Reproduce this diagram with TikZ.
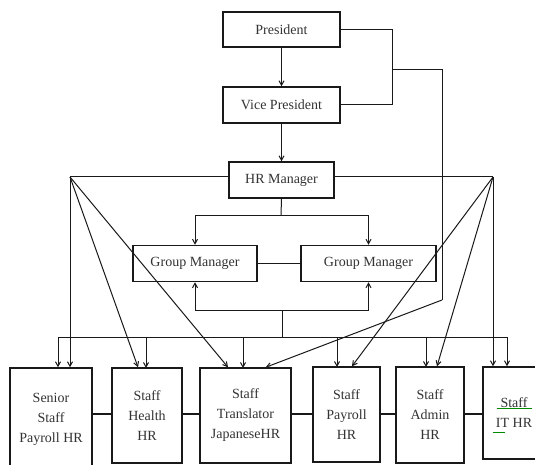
\documentclass[tikz,border=0pt]{standalone}
\usepackage{fontspec}
\setmainfont{Liberation Serif}
\usetikzlibrary{arrows.meta}
\begin{document}
\begin{tikzpicture}[x=1pt,y=-1pt,
  box/.style={draw=black!90,line width=1.5pt,fill=white,inner sep=0pt,align=center,
    font=\fontsize{14}{20}\selectfont,text=black!80},
  conn/.style={draw=black!90,line width=1pt},
  arr/.style={conn,-{Straight Barb[length=4.5pt,width=5pt]}},
  link/.style={draw=black!90,line width=1.8pt}]
\clip (0,0) rectangle (535,465);
\useasboundingbox (0,0) rectangle (535,465);
% boxes
\node[box,minimum width=117pt,minimum height=35pt] (pres) at (281.5,29.5) {President};
\node[box,minimum width=117pt,minimum height=36pt] (vp) at (281.5,105) {Vice President};
\node[box,minimum width=105pt,minimum height=36pt] (hr) at (281.5,180) {HR Manager};
\node[box,minimum width=124pt,minimum height=36pt] (gma) at (195,263.5) {Group Manager};
\node[box,minimum width=135pt,minimum height=36pt] (gmb) at (368.5,263.5) {Group Manager};
\node[box,minimum width=82pt,minimum height=102pt] (sen) at (51,419) {Senior\\Staff\\Payroll HR};
\node[box,minimum width=70pt,minimum height=95pt] (hea) at (147,415.5) {Staff\\Health\\HR};
\node[box,minimum width=91pt,minimum height=95pt] (tra) at (245.5,415.5) {Staff\\Translator\\JapaneseHR};
\node[box,minimum width=67pt,minimum height=95pt] (pay) at (346.5,414.5) {Staff\\Payroll\\HR};
\node[box,minimum width=68pt,minimum height=96pt] (adm) at (430,415) {Staff\\Admin\\HR};
\node[box,minimum width=62pt,minimum height=92pt] (it) at (514,413) {Staff\\IT HR};
% spell-check marks
\draw[green!55!black,line width=0.6pt] (497,408.5) -- (532,408.5);
\draw[green!55!black,line width=0.6pt] (493,432.5) -- (505,432.5);
% coordinates
\coordinate (L) at (70,177);
\coordinate (R) at (493,177);
\coordinate (pj) at (392,29.5);
\coordinate (pk) at (392,70);
\coordinate (pm) at (442,70);
\coordinate (pn) at (442,300);
\coordinate (ha) at (281,215);
\coordinate (ba) at (282,310);
\coordinate (bb) at (282,337);
\coordinate (bl) at (58,337);
\coordinate (br) at (507,337);
% top chain
\draw[arr] (pres) -- (vp);
\draw[arr] (vp) -- (hr);
\draw[conn] (pres.east) -- (pj) -- (pj |- vp.east) -- (vp.east);
\draw[conn] (pk) -- (pm) -- (pn);
\draw[arr] (pn) -- ([xshift=-26pt]tra.north east);
% HR to sides
\draw[conn] (hr.west |- L) -- (L);
\draw[conn] (hr.east |- R) -- (R);
\draw[arr] (L) -- (L |- sen.north);
\draw[arr] (L) -- ([xshift=-9pt]hea.north);
\draw[arr] (L) -- ([xshift=-17.5pt]tra.north);
\draw[arr] (R) -- (R |- it.north);
\draw[arr] (R) -- ([xshift=5.5pt]pay.north);
\draw[arr] (R) -- ([xshift=7pt]adm.north);
% HR to group managers
\draw[conn] (hr.south) -- (ha);
\draw[conn] (gma.north |- ha) -- (gmb.north |- ha);
\draw[arr] (gma.north |- ha) -- (gma.north);
\draw[arr] (gmb.north |- ha) -- (gmb.north);
\draw[conn] (gma.east) -- (gmb.west);
% lower bus to group managers
\draw[conn] (gma.south |- ba) -- (gmb.south |- ba);
\draw[arr] (gma.south |- ba) -- (gma.south);
\draw[arr] (gmb.south |- ba) -- (gmb.south);
\draw[conn] (ba) -- (bb);
% staff bus
\draw[conn] (bl) -- (br);
\draw[arr] (bl) -- (bl |- sen.north);
\draw[arr] (146,337) -- (146,368);
\draw[arr] (243,337) -- (243,368);
\draw[arr] (337,337) -- (337,367);
\draw[arr] (426,337) -- (426,367);
\draw[arr] (br) -- (br |- it.north);
% links between staff boxes
\draw[link] (sen.east |- 0,414) -- (hea.west |- 0,414);
\draw[link] (hea.east |- 0,414) -- (tra.west |- 0,414);
\draw[link] (tra.east |- 0,414) -- (pay.west |- 0,414);
\draw[link] (pay.east |- 0,414) -- (adm.west |- 0,414);
\draw[link] (adm.east |- 0,414) -- (it.west |- 0,414);
\end{tikzpicture}
\end{document}
